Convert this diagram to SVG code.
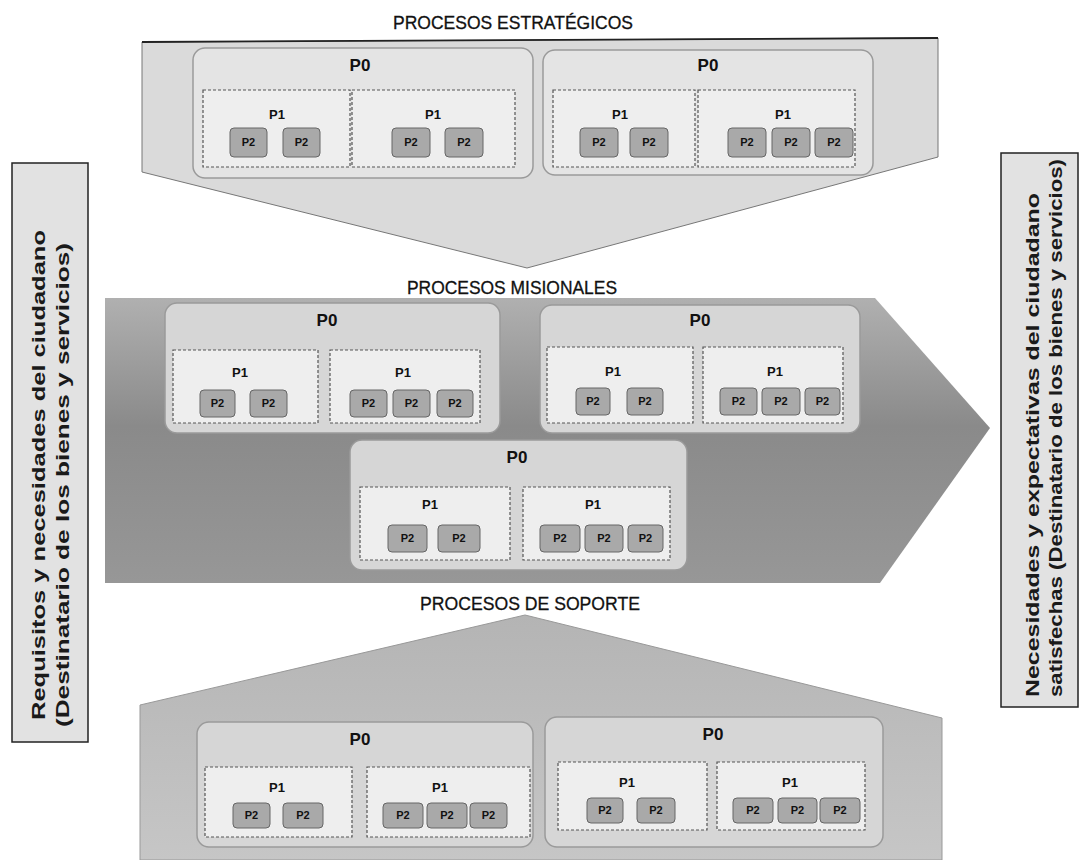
<svg xmlns="http://www.w3.org/2000/svg" width="1083" height="860" viewBox="0 0 1083 860">
<defs>
<linearGradient id="band" x1="0" y1="0" x2="0" y2="1">
<stop offset="0" stop-color="#b0b0b0"/>
<stop offset="0.45" stop-color="#8a8a8a"/>
<stop offset="1" stop-color="#979797"/>
</linearGradient>
<linearGradient id="low" x1="0" y1="0" x2="0" y2="1">
<stop offset="0" stop-color="#b4b4b4"/>
<stop offset="1" stop-color="#c6c6c6"/>
</linearGradient>
</defs>
<style>
.title{font-family:"Liberation Sans",Arial,sans-serif;font-size:18px;fill:#111;stroke:#111;stroke-width:0.3;text-anchor:middle}
.p0{fill:#e4e4e4;stroke:#9a9a9a;stroke-width:1.5}
.p0m{fill:#d6d6d6;stroke:#9a9a9a;stroke-width:1.5}
.p1{fill:#eeeeee;stroke:#555;stroke-width:1.2;stroke-dasharray:3 2}
.p2{fill:#a9a9a9;stroke:#666;stroke-width:1}
.l0{font-family:"Liberation Sans",Arial,sans-serif;font-weight:bold;font-size:17px;fill:#111;text-anchor:middle}
.l1{font-family:"Liberation Sans",Arial,sans-serif;font-weight:bold;font-size:13px;fill:#111;text-anchor:middle}
.l2{font-family:"Liberation Sans",Arial,sans-serif;font-weight:bold;font-size:11px;fill:#111;text-anchor:middle}
.side{fill:#e2e2e2;stroke:#222;stroke-width:1.5}
.st{font-family:"Liberation Sans",Arial,sans-serif;font-weight:bold;font-size:18px;fill:#1a1a1a}
</style>
<rect width="1083" height="860" fill="#ffffff"/>

<!-- background shapes -->
<g id="estrategicos-shape">
<path d="M142,42 L938,38 L938,157 L527,268 L142,172 Z" fill="#dadada" stroke="#777" stroke-width="1"/>
<path d="M142,42 L938,38" stroke="#222" stroke-width="1.8" fill="none"/>
</g>
<g id="misionales-shape">
<path d="M105,298 L875,298 L990,428 L880,583 L105,583 Z" fill="url(#band)"/>
</g>
<g id="soporte-shape">
<path d="M140,705 L525,615 L942,718 L942,860 L140,860 Z" fill="url(#low)" stroke="#999" stroke-width="1"/>
</g>

<text class="title" x="513" y="29" textLength="240" lengthAdjust="spacingAndGlyphs">PROCESOS ESTRATÉGICOS</text>
<text class="title" x="512" y="294" textLength="210" lengthAdjust="spacingAndGlyphs">PROCESOS MISIONALES</text>
<text class="title" x="530" y="610" textLength="220" lengthAdjust="spacingAndGlyphs">PROCESOS DE SOPORTE</text>

<!-- side labels -->
<g id="requisitos">
<rect class="side" x="12" y="163" width="76" height="579"/>
<text class="st" transform="translate(45,720) rotate(-90)" textLength="490" lengthAdjust="spacingAndGlyphs">Requisitos y necesidades del ciudadano</text>
<text class="st" transform="translate(69,727) rotate(-90)" textLength="484" lengthAdjust="spacingAndGlyphs">(Destinatario de los bienes y servicios)</text>
</g>
<g id="necesidades">
<rect class="side" x="1001" y="153" width="77" height="554"/>
<text class="st" transform="translate(1039,697) rotate(-90)" textLength="504" lengthAdjust="spacingAndGlyphs">Necesidades y expectativas del ciudadano</text>
<text class="st" transform="translate(1062,697) rotate(-90)" textLength="538" lengthAdjust="spacingAndGlyphs">satisfechas (Destinatario de los bienes y servicios)</text>
</g>

<!-- ESTRATEGICOS -->
<g id="e-p0-a">
<rect class="p0" x="193" y="48" width="340" height="130" rx="12"/>
<text class="l0" x="360" y="71">P0</text>
<g id="e-p1-a1">
<rect class="p1" x="203" y="90" width="147" height="77"/>
<text class="l1" x="277" y="119">P1</text>
<rect class="p2" x="230" y="128" width="37" height="29" rx="4"/><text class="l2" x="248.5" y="146">P2</text>
<rect class="p2" x="283" y="128" width="37" height="29" rx="4"/><text class="l2" x="301.5" y="146">P2</text>
</g>
<g id="e-p1-a2">
<rect class="p1" x="352" y="90" width="163" height="77"/>
<text class="l1" x="433" y="119">P1</text>
<rect class="p2" x="392" y="128" width="38" height="29" rx="4"/><text class="l2" x="411" y="146">P2</text>
<rect class="p2" x="445" y="128" width="38" height="29" rx="4"/><text class="l2" x="464" y="146">P2</text>
</g>
</g>
<g id="e-p0-b">
<rect class="p0" x="543" y="50" width="330" height="125" rx="12"/>
<text class="l0" x="708" y="71">P0</text>
<g id="e-p1-b1">
<rect class="p1" x="553" y="90" width="142" height="77"/>
<text class="l1" x="620" y="119">P1</text>
<rect class="p2" x="580" y="128" width="38" height="29" rx="4"/><text class="l2" x="599" y="146">P2</text>
<rect class="p2" x="630" y="128" width="38" height="29" rx="4"/><text class="l2" x="649" y="146">P2</text>
</g>
<g id="e-p1-b2">
<rect class="p1" x="698" y="90" width="157" height="77"/>
<text class="l1" x="783" y="119">P1</text>
<rect class="p2" x="728" y="128" width="38" height="29" rx="4"/><text class="l2" x="747" y="146">P2</text>
<rect class="p2" x="772" y="128" width="38" height="29" rx="4"/><text class="l2" x="791" y="146">P2</text>
<rect class="p2" x="815" y="128" width="38" height="29" rx="4"/><text class="l2" x="834" y="146">P2</text>
</g>
</g>

<!-- MISIONALES -->
<g id="m-p0-c">
<rect class="p0m" x="165" y="303" width="335" height="130" rx="12"/>
<text class="l0" x="327" y="326">P0</text>
<g id="m-p1-c1">
<rect class="p1" x="173" y="350" width="145" height="73"/>
<text class="l1" x="240" y="377">P1</text>
<rect class="p2" x="200" y="390" width="35" height="27" rx="4"/><text class="l2" x="217.5" y="407">P2</text>
<rect class="p2" x="250" y="390" width="37" height="27" rx="4"/><text class="l2" x="268.5" y="407">P2</text>
</g>
<g id="m-p1-c2">
<rect class="p1" x="330" y="350" width="150" height="73"/>
<text class="l1" x="403" y="377">P1</text>
<rect class="p2" x="350" y="390" width="37" height="27" rx="4"/><text class="l2" x="368.5" y="407">P2</text>
<rect class="p2" x="393" y="390" width="37" height="27" rx="4"/><text class="l2" x="411.5" y="407">P2</text>
<rect class="p2" x="437" y="390" width="36" height="27" rx="4"/><text class="l2" x="455" y="407">P2</text>
</g>
</g>
<g id="m-p0-d">
<rect class="p0m" x="540" y="305" width="320" height="128" rx="12"/>
<text class="l0" x="700" y="326">P0</text>
<g id="m-p1-d1">
<rect class="p1" x="547" y="347" width="146" height="76"/>
<text class="l1" x="613" y="376">P1</text>
<rect class="p2" x="576" y="388" width="34" height="27" rx="4"/><text class="l2" x="593" y="405">P2</text>
<rect class="p2" x="627" y="388" width="36" height="27" rx="4"/><text class="l2" x="645" y="405">P2</text>
</g>
<g id="m-p1-d2">
<rect class="p1" x="703" y="347" width="140" height="76"/>
<text class="l1" x="775" y="376">P1</text>
<rect class="p2" x="720" y="388" width="37" height="27" rx="4"/><text class="l2" x="738.5" y="405">P2</text>
<rect class="p2" x="762" y="388" width="38" height="27" rx="4"/><text class="l2" x="781" y="405">P2</text>
<rect class="p2" x="805" y="388" width="35" height="27" rx="4"/><text class="l2" x="822.5" y="405">P2</text>
</g>
</g>
<g id="m-p0-e">
<rect class="p0m" x="350" y="440" width="337" height="130" rx="12"/>
<text class="l0" x="517" y="463">P0</text>
<g id="m-p1-e1">
<rect class="p1" x="360" y="487" width="150" height="73"/>
<text class="l1" x="430" y="509">P1</text>
<rect class="p2" x="388" y="525" width="39" height="27" rx="4"/><text class="l2" x="407.5" y="542">P2</text>
<rect class="p2" x="438" y="525" width="42" height="27" rx="4"/><text class="l2" x="459" y="542">P2</text>
</g>
<g id="m-p1-e2">
<rect class="p1" x="523" y="487" width="147" height="73"/>
<text class="l1" x="593" y="509">P1</text>
<rect class="p2" x="540" y="525" width="40" height="27" rx="4"/><text class="l2" x="560" y="542">P2</text>
<rect class="p2" x="585" y="525" width="38" height="27" rx="4"/><text class="l2" x="604" y="542">P2</text>
<rect class="p2" x="628" y="525" width="35" height="27" rx="4"/><text class="l2" x="645.5" y="542">P2</text>
</g>
</g>

<!-- SOPORTE -->
<g id="s-p0-f">
<rect class="p0m" x="197" y="722" width="336" height="125" rx="12"/>
<text class="l0" x="360" y="745">P0</text>
<g id="s-p1-f1">
<rect class="p1" x="205" y="767" width="147" height="70"/>
<text class="l1" x="277" y="792">P1</text>
<rect class="p2" x="233" y="803" width="37" height="25" rx="4"/><text class="l2" x="251.5" y="819">P2</text>
<rect class="p2" x="283" y="803" width="40" height="25" rx="4"/><text class="l2" x="303" y="819">P2</text>
</g>
<g id="s-p1-f2">
<rect class="p1" x="367" y="767" width="163" height="70"/>
<text class="l1" x="440" y="792">P1</text>
<rect class="p2" x="383" y="803" width="40" height="25" rx="4"/><text class="l2" x="403" y="819">P2</text>
<rect class="p2" x="427" y="803" width="40" height="25" rx="4"/><text class="l2" x="447" y="819">P2</text>
<rect class="p2" x="470" y="803" width="37" height="25" rx="4"/><text class="l2" x="488.5" y="819">P2</text>
</g>
</g>
<g id="s-p0-g">
<rect class="p0m" x="545" y="717" width="338" height="130" rx="12"/>
<text class="l0" x="713" y="740">P0</text>
<g id="s-p1-g1">
<rect class="p1" x="558" y="762" width="149" height="68"/>
<text class="l1" x="627" y="787">P1</text>
<rect class="p2" x="587" y="798" width="36" height="25" rx="4"/><text class="l2" x="605" y="814">P2</text>
<rect class="p2" x="637" y="798" width="38" height="25" rx="4"/><text class="l2" x="656" y="814">P2</text>
</g>
<g id="s-p1-g2">
<rect class="p1" x="717" y="762" width="148" height="68"/>
<text class="l1" x="790" y="787">P1</text>
<rect class="p2" x="733" y="798" width="40" height="25" rx="4"/><text class="l2" x="753" y="814">P2</text>
<rect class="p2" x="778" y="798" width="39" height="25" rx="4"/><text class="l2" x="797.5" y="814">P2</text>
<rect class="p2" x="820" y="798" width="40" height="25" rx="4"/><text class="l2" x="840" y="814">P2</text>
</g>
</g>

<g id="connectors"/>
</svg>
